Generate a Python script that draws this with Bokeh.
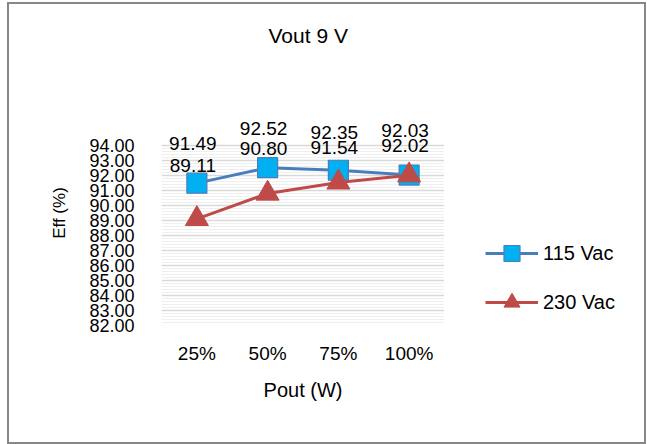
from bokeh.plotting import figure
from bokeh.layouts import row
from bokeh.models import (FixedTicker, Legend, LegendItem, ColumnDataSource, Title,
                          NumeralTickFormatter, Range1d, FactorRange)
from bokeh.core.properties import value
from bokeh.embed import file_html
from bokeh.resources import INLINE

# ---- data ----
categories = ["25%", "50%", "75%", "100%"]
eff_115 = [91.49, 92.52, 92.35, 92.03]
eff_230 = [89.11, 90.80, 91.54, 92.02]
series_names = ["115 Vac", "230 Vac"]
y_ticks = [82, 83, 84, 85, 86, 87, 88, 89, 90, 91, 92, 93, 94]
y_minor = [82 + 0.2 * i for i in range(61)]
title_text = "Vout 9 V"
x_title = "Pout (W)"
y_title = "Eff (%)"

# ---- style (label pixel offsets) ----
lab_off_115 = [-40, -39, -38, -45]
lab_off_230 = [-53, -45, -35, -30]

FONT = "Liberation Sans"
BLUE_LINE = "#4a7ebb"
BLUE_FILL = "#00b0f0"
RED = "#be4b48"

OX, OY = 9, 4            # page offset of the canvases (margin + border)
W, H = 435, 438          # main canvas size
WL = 200                 # legend canvas width
FL, FB, FT = 161 - OX, 325 - OY, 100 - OY  # frame edges in canvas px
px_per_unit = 15.0
y_top = 82 + (FB - FT) / px_per_unit

p = figure(width=W, height=H, x_range=FactorRange(*categories, range_padding=0),
           y_range=Range1d(82, y_top), output_backend="svg", toolbar_location=None,
           min_border_left=FL, min_border_right=0, min_border_top=FT,
           min_border_bottom=H - FB)
p.outline_line_color = None
p.background_fill_color = "white"
p.border_fill_color = "white"

src = ColumnDataSource(dict(x=categories, a=eff_115, b=eff_230,
                            la=[f"{v:.2f}" for v in eff_115],
                            lb=[f"{v:.2f}" for v in eff_230],
                            oa=lab_off_115, ob=lab_off_230))

line_115 = dict(line_color=BLUE_LINE, line_width=3)
mark_115 = dict(marker="square", size=20, fill_color=BLUE_FILL, line_color=BLUE_LINE,
                line_width=1.2)
line_230 = dict(line_color=RED, line_width=3)
mark_230 = dict(marker="triangle", size=23, fill_color=RED, line_color=RED)

p.line("x", "a", source=src, **line_115)
p.scatter("x", "a", source=src, **mark_115)
p.line("x", "b", source=src, **line_230)
p.scatter("x", "b", source=src, **mark_230)

p.text("x", "a", text="la", source=src, x_offset=-4, y_offset="oa",
       text_align="center", text_baseline="middle", text_font=value(FONT),
       text_font_size="19px", text_color="black")
p.text("x", "b", text="lb", source=src, x_offset=-4, y_offset="ob",
       text_align="center", text_baseline="middle", text_font=value(FONT),
       text_font_size="19px", text_color="black")

# axes
yax = p.yaxis[0]
yax.ticker = FixedTicker(ticks=y_ticks, minor_ticks=y_minor)
yax.formatter = NumeralTickFormatter(format="0.00")
yax.axis_line_color = None
yax.major_tick_line_color = None
yax.minor_tick_line_color = None
yax.major_label_standoff = 21
yax.major_label_text_font = FONT
yax.major_label_text_font_size = "18px"
yax.major_label_text_color = "black"
yax.axis_label = y_title
yax.axis_label_text_font = FONT
yax.axis_label_text_font_size = "17px"
yax.axis_label_text_font_style = "normal"
yax.axis_label_text_color = "black"
yax.axis_label_standoff = 17

xax = p.xaxis[0]
xax.axis_line_color = None
xax.major_tick_line_color = None
xax.minor_tick_line_color = None
xax.major_label_standoff = 11
xax.major_label_text_font = FONT
xax.major_label_text_font_size = "19px"
xax.major_label_text_color = "black"
xax.axis_label = x_title
xax.axis_label_text_font = FONT
xax.axis_label_text_font_size = "20px"
xax.axis_label_text_font_style = "normal"
xax.axis_label_text_color = "black"
xax.axis_label_standoff = 12

p.xgrid.grid_line_color = None
p.ygrid.grid_line_color = "#d9d9d9"
p.ygrid.grid_line_width = 1.5
p.ygrid.minor_grid_line_color = "#efefef"
p.ygrid.minor_grid_line_width = 1

# title (spacer title next to the frame, then the real one above it)
p.title = None
p.add_layout(Title(text=" ", text_font_size="2px", standoff=50), "above")
p.add_layout(Title(text=title_text, align="left", offset=107, standoff=0,
                   text_font=FONT, text_font_size="21px", text_font_style="normal",
                   text_color="black"), "above")

# legend panel (a second, axis-less figure carrying the legend; its frame is
# aligned with the main frame, and its proxy glyphs lie outside its ranges)
pl = figure(width=WL, height=H, x_range=Range1d(-20, -10), y_range=Range1d(0, 1),
            x_axis_type=None, y_axis_type=None, output_backend="svg",
            toolbar_location=None, min_border=0)
pl.outline_line_color = None
pl.grid.visible = False
pl.background_fill_color = "white"
pl.border_fill_color = "white"
idx = list(range(len(categories)))
g1 = pl.line(idx, eff_115, **line_115)
g2 = pl.scatter(idx, eff_115, **mark_115)
g3 = pl.line(idx, eff_230, **line_230)
g4 = pl.scatter(idx, eff_230, **mark_230)
legend = Legend(items=[LegendItem(label=series_names[0], renderers=[g1, g2]),
                       LegendItem(label=series_names[1], renderers=[g3, g4])],
                location=(485 - OX - W, 3), orientation="vertical",
                glyph_width=53, glyph_height=40, spacing=9, padding=0, margin=0,
                label_standoff=5, label_text_font=FONT, label_text_font_size="20px",
                label_text_color="black", border_line_alpha=0,
                background_fill_alpha=0)
pl.add_layout(legend, "center")

lay = row(p, pl, spacing=0,
          styles={"border": "2px solid #878787", "margin-left": "7px",
                  "margin-top": "2px"})

open("out.html", "w").write(file_html(lay, INLINE))
